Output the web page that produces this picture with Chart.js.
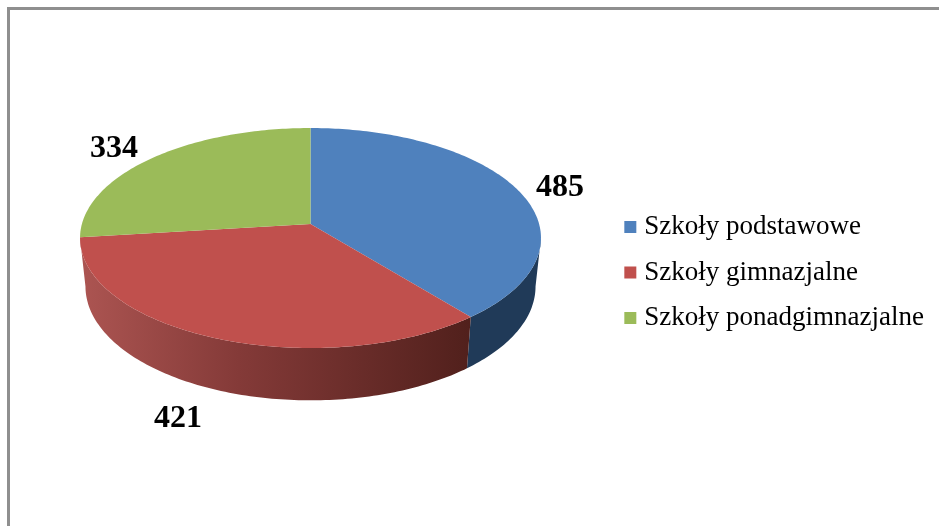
<!DOCTYPE html>
<html>
<head>
<meta charset="utf-8">
<script src="https://cdn.jsdelivr.net/npm/chart.js@4"></script>
<style>
    html, body { margin: 0; padding: 0; background: #fff; }
    #wrap { position: relative; width: 939px; height: 526px; overflow: hidden; }
    #frame { position: absolute; left: 7px; top: 7px; right: 0; bottom: 0; border-left: 3px solid #8f8f8f; border-top: 3px solid #8f8f8f; }
    canvas { position: absolute; left: 0; top: 0; filter: blur(0.35px); }
</style>
</head>
<body>
<div id="wrap">
    <div id="frame"></div>
    <canvas id="chart" width="939" height="526"></canvas>
</div>
<script>
const categories = ["Szkoły podstawowe", "Szkoły gimnazjalne", "Szkoły ponadgimnazjalne"];
const schools = [485, 421, 334];
const colors = ["#4f81bd", "#c0504d", "#9bbb59"];

// Where each number is printed (centre of the text)
const labelSpots = [[560, 188], [178, 419], [114, 149]];

// The pie's perspective: top face and bottom rim of the disc
const topFace = { cx: 310.5, cy: 224, a: 228.6, b: 108.2, k: 0.1273 };
const bottomRim = { cx: 310.5, cy: 272, a: 223.2, b: 112, k: 0.1273 };
const STEP = Math.PI / 180;

function project(f, t) {
    const w = 1 + f.k * Math.cos(t);
    return [f.cx + f.a * Math.sin(t) / w, f.cy - f.b * Math.cos(t) / w];
}

function wallFill(ctx, i) {
    if (i === 0) return "#203a58";
    if (i === 2) return "#76903f";
    const g = ctx.createLinearGradient(85, 0, 470, 0);
    g.addColorStop(0, "#ab5451");
    g.addColorStop(0.4, "#843a38");
    g.addColorStop(1, "#51201c");
    return g;
}

// Draws the arcs that Chart.js laid out, but as a tilted disc
const tiltedPie = {
    id: "tiltedPie",
    beforeDatasetDraw(chart) {
        const ctx = chart.ctx;
        const arcs = chart.getDatasetMeta(0).data;
        const tMin = Math.acos(-topFace.k);
        const tMax = 2 * Math.PI - tMin;

        ctx.save();
        arcs.forEach((arc, i) => {
            const start = Math.max(arc.startAngle + Math.PI / 2, tMin);
            const end = Math.min(arc.endAngle + Math.PI / 2, tMax);
            if (end <= start) return;
            ctx.beginPath();
            for (let t = start; t < end; t += STEP) ctx.lineTo(...project(topFace, t));
            ctx.lineTo(...project(topFace, end));
            ctx.lineTo(...project(bottomRim, end));
            for (let t = end; t > start; t -= STEP) ctx.lineTo(...project(bottomRim, t));
            ctx.lineTo(...project(bottomRim, start));
            ctx.closePath();
            ctx.fillStyle = wallFill(ctx, i);
            ctx.fill();
        });
        arcs.forEach((arc, i) => {
            const start = arc.startAngle + Math.PI / 2;
            const end = arc.endAngle + Math.PI / 2;
            ctx.beginPath();
            ctx.moveTo(topFace.cx, topFace.cy);
            for (let t = start; t < end; t += STEP) ctx.lineTo(...project(topFace, t));
            ctx.lineTo(...project(topFace, end));
            ctx.closePath();
            ctx.fillStyle = colors[i];
            ctx.fill();
        });

        ctx.fillStyle = "#000";
        ctx.font = "bold 32px 'Liberation Serif'";
        ctx.textAlign = "center";
        ctx.textBaseline = "middle";
        schools.forEach((v, i) => ctx.fillText(String(v), labelSpots[i][0], labelSpots[i][1]));
        ctx.restore();
        return false;
    }
};

new Chart(document.getElementById("chart").getContext("2d"), {
    type: "pie",
    data: {
        labels: categories,
        datasets: [{ data: schools, backgroundColor: colors, borderWidth: 0 }]
    },
    options: {
        responsive: false,
        animation: false,
        layout: { padding: { top: 19, right: 5 } },
        plugins: {
            tooltip: { enabled: false },
            legend: {
                position: "right",
                labels: {
                    color: "#1a1a1a",
                    font: { family: "'Liberation Serif'", size: 27 },
                    padding: 18.5,
                    boxWidth: 1,
                    boxHeight: 1,
                    // thick stroke gives a 12px swatch closer to the text
                    generateLabels: () => categories.map((text, i) => ({
                        text,
                        fillStyle: colors[i],
                        strokeStyle: colors[i],
                        lineWidth: 11,
                        index: i
                    }))
                }
            }
        }
    },
    plugins: [tiltedPie]
});
</script>
</body>
</html>
